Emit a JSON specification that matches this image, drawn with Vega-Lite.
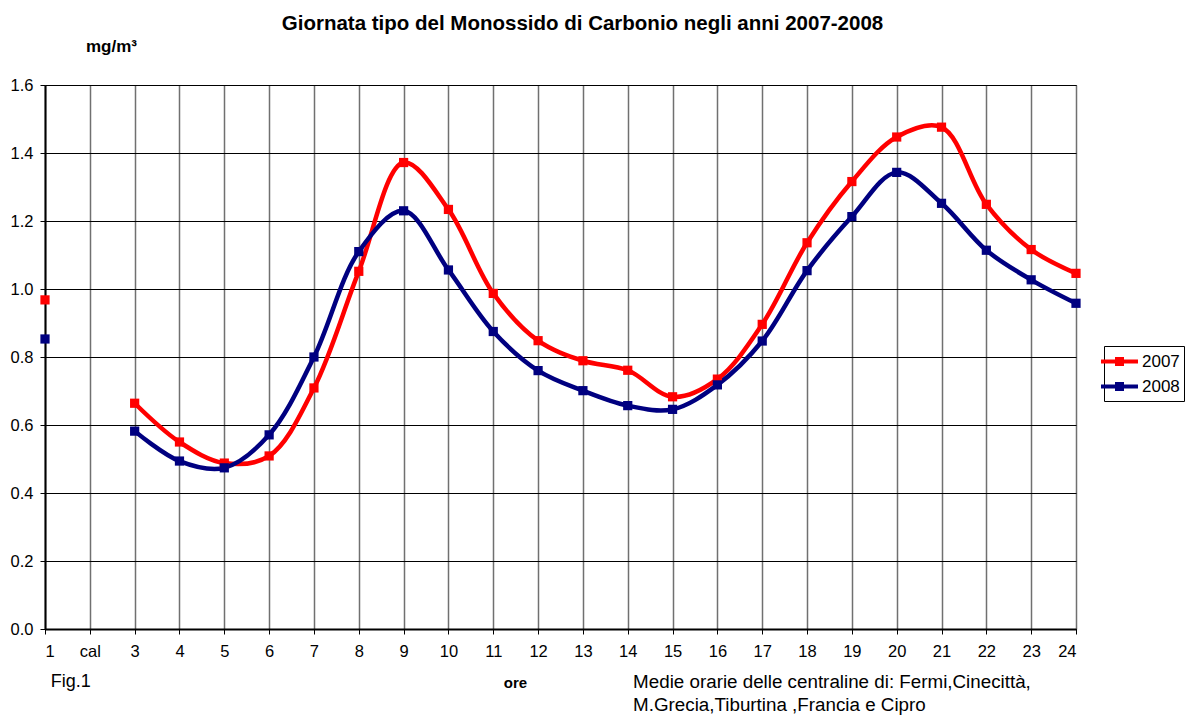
{
  "$schema": "https://vega.github.io/schema/vega-lite/v6.json",
  "width": 1031,
  "height": 544,
  "autosize": "none",
  "padding": {"left": 45, "top": 85, "right": 116, "bottom": 86},
  "background": "white",
  "config": {
    "font": "Liberation Sans",
    "view": {"stroke": "black", "strokeWidth": 1}
  },
  "title": {
    "text": "Giornata tipo del Monossido di Carbonio negli anni 2007-2008",
    "fontSize": 20.5,
    "fontWeight": "bold",
    "font": "Liberation Sans",
    "anchor": "middle",
    "dx": 22,
    "offset": 3,
    "color": "black"
  },
  "data": {
    "values": [
      {"ora": 1, "anno": "2007", "v": 0.968},
      {"ora": 3, "anno": "2007", "v": 0.664},
      {"ora": 4, "anno": "2007", "v": 0.550},
      {"ora": 5, "anno": "2007", "v": 0.488},
      {"ora": 6, "anno": "2007", "v": 0.509},
      {"ora": 7, "anno": "2007", "v": 0.709},
      {"ora": 8, "anno": "2007", "v": 1.052},
      {"ora": 9, "anno": "2007", "v": 1.372},
      {"ora": 10, "anno": "2007", "v": 1.234},
      {"ora": 11, "anno": "2007", "v": 0.987},
      {"ora": 12, "anno": "2007", "v": 0.848},
      {"ora": 13, "anno": "2007", "v": 0.789},
      {"ora": 14, "anno": "2007", "v": 0.761},
      {"ora": 15, "anno": "2007", "v": 0.683},
      {"ora": 16, "anno": "2007", "v": 0.735},
      {"ora": 17, "anno": "2007", "v": 0.896},
      {"ora": 18, "anno": "2007", "v": 1.136},
      {"ora": 19, "anno": "2007", "v": 1.316},
      {"ora": 20, "anno": "2007", "v": 1.447},
      {"ora": 21, "anno": "2007", "v": 1.476},
      {"ora": 22, "anno": "2007", "v": 1.249},
      {"ora": 23, "anno": "2007", "v": 1.116},
      {"ora": 24, "anno": "2007", "v": 1.046},
      {"ora": 1, "anno": "2008", "v": 0.853},
      {"ora": 3, "anno": "2008", "v": 0.582},
      {"ora": 4, "anno": "2008", "v": 0.494},
      {"ora": 5, "anno": "2008", "v": 0.474},
      {"ora": 6, "anno": "2008", "v": 0.571},
      {"ora": 7, "anno": "2008", "v": 0.800},
      {"ora": 8, "anno": "2008", "v": 1.110},
      {"ora": 9, "anno": "2008", "v": 1.230},
      {"ora": 10, "anno": "2008", "v": 1.056},
      {"ora": 11, "anno": "2008", "v": 0.875},
      {"ora": 12, "anno": "2008", "v": 0.760},
      {"ora": 13, "anno": "2008", "v": 0.701},
      {"ora": 14, "anno": "2008", "v": 0.657},
      {"ora": 15, "anno": "2008", "v": 0.646},
      {"ora": 16, "anno": "2008", "v": 0.718},
      {"ora": 17, "anno": "2008", "v": 0.847},
      {"ora": 18, "anno": "2008", "v": 1.054},
      {"ora": 19, "anno": "2008", "v": 1.213},
      {"ora": 20, "anno": "2008", "v": 1.343},
      {"ora": 21, "anno": "2008", "v": 1.252},
      {"ora": 22, "anno": "2008", "v": 1.114},
      {"ora": 23, "anno": "2008", "v": 1.027},
      {"ora": 24, "anno": "2008", "v": 0.958}
    ]
  },
  "encoding": {
    "x": {
      "field": "ora",
      "type": "quantitative",
      "scale": {"domain": [1, 24], "nice": false, "zero": false},
      "axis": {
        "values": [1,2,3,4,5,6,7,8,9,10,11,12,13,14,15,16,17,18,19,20,21,22,23,24],
        "labelExpr": "datum.value == 2 ? 'cal' : datum.value",
        "labelFontSize": 16.5,
        "labelColor": "black",
        "labelPadding": 9,
        "tickColor": "black",
        "tickSize": 5,
        "domainColor": "black",
        "domainWidth": 2,
        "grid": true,
        "gridColor": "#707070",
        "gridWidth": 1.5,
        "gridOpacity": 1,
        "title": "ore",
        "titleFontSize": 15,
        "titleFontWeight": "bold",
        "titleColor": "black",
        "titleX": 470,
        "titleY": 53,
        "titleAlign": "center",
        "titleBaseline": "middle"
      }
    },
    "y": {
      "field": "v",
      "type": "quantitative",
      "scale": {"domain": [0, 1.6], "nice": false},
      "axis": {
        "values": [0, 0.2, 0.4, 0.6, 0.8, 1.0, 1.2, 1.4, 1.6],
        "format": ".1f",
        "labelFontSize": 16.5,
        "labelColor": "black",
        "labelPadding": 7,
        "tickColor": "black",
        "tickSize": 5,
        "domainColor": "black",
        "domainWidth": 2,
        "grid": true,
        "gridColor": "black",
        "gridWidth": 1,
        "gridOpacity": 1,
        "title": "mg/m³",
        "titleFontSize": 17,
        "titleFontWeight": "bold",
        "titleColor": "black",
        "titleAngle": 0,
        "titleX": 66,
        "titleY": -39,
        "titleAlign": "center",
        "titleBaseline": "middle"
      }
    },
    "color": {
      "field": "anno",
      "type": "nominal",
      "scale": {"domain": ["2007", "2008"], "range": ["#FF0000", "#000080"]},
      "legend": {
        "title": null,
        "orient": "none",
        "legendX": 1059,
        "legendY": 261,
        "symbolType": "M-2,0H2M-0.27,-0.27H0.27V0.27H-0.27Z",
        "symbolSize": 342,
        "symbolStrokeWidth": 4,
        "labelFontSize": 17,
        "labelColor": "black",
        "labelOffset": 11,
        "rowPadding": 3,
        "padding": 4,
        "strokeColor": "black",
        "fillColor": "white"
      }
    }
  },
  "layer": [
    {
      "transform": [{"filter": "datum.ora >= 3"}],
      "mark": {"type": "line", "interpolate": "catmull-rom", "strokeWidth": 4.5}
    },
    {
      "mark": {"type": "point", "shape": "square", "filled": true, "size": 85, "opacity": 1}
    },
    {
      "transform": [{"filter": "datum.ora == 1 && datum.anno == '2007'"}],
      "mark": {"type": "text", "align": "left", "baseline": "middle", "fontSize": 18, "font": "Liberation Sans"},
      "encoding": {
        "x": {"datum": 1.13},
        "y": {"datum": -0.155},
        "text": {"value": "Fig.1"},
        "color": {"value": "black"}
      }
    },
    {
      "transform": [{"filter": "datum.ora == 1 && datum.anno == '2007'"}],
      "mark": {"type": "text", "align": "left", "baseline": "top", "fontSize": 18.8, "lineHeight": 23, "font": "Liberation Sans"},
      "encoding": {
        "x": {"datum": 14.12},
        "y": {"datum": -0.13},
        "text": {"value": ["Medie orarie delle centraline di: Fermi,Cinecittà,", "M.Grecia,Tiburtina ,Francia e Cipro"]},
        "color": {"value": "black"}
      }
    }
  ]
}
